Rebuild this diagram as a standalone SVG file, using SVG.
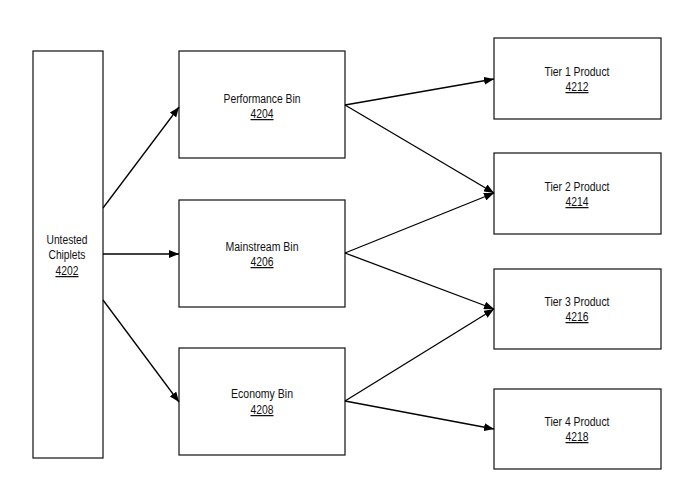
<svg xmlns="http://www.w3.org/2000/svg" width="693" height="503" viewBox="0 0 693 503">
<style>
.box{fill:#fff;stroke:#222;stroke-width:1.3}
.t{font-family:"Liberation Sans",Arial,sans-serif;font-size:12.5px;fill:#111;text-anchor:middle}
.u{text-decoration:underline}
.c{stroke:#000;stroke-width:1.3;fill:none;marker-end:url(#ah)}
</style>
<defs>
<marker id="ah" viewBox="0 0 10 8" refX="10" refY="4" markerWidth="10" markerHeight="8" markerUnits="userSpaceOnUse" orient="auto">
<path d="M0,0 L10,4 L0,8 Z" fill="#000"/>
</marker>
</defs>
<rect width="693" height="503" fill="#fff"/>
<g id="n4202"><rect class="box" x="33" y="51" width="70" height="407"/>
<text class="t" x="67" y="244" textLength="41" lengthAdjust="spacingAndGlyphs">Untested</text><text class="t" x="67" y="259" textLength="37" lengthAdjust="spacingAndGlyphs">Chiplets</text><text class="t u" x="67" y="275" textLength="23" lengthAdjust="spacingAndGlyphs">4202</text></g>
<g id="n4204"><rect class="box" x="179" y="51" width="166" height="107"/>
<text class="t" x="262" y="103" textLength="77" lengthAdjust="spacingAndGlyphs">Performance Bin</text><text class="t u" x="262" y="118" textLength="23" lengthAdjust="spacingAndGlyphs">4204</text></g>
<g id="n4206"><rect class="box" x="179" y="200" width="166" height="107"/>
<text class="t" x="262" y="251" textLength="73" lengthAdjust="spacingAndGlyphs">Mainstream Bin</text><text class="t u" x="262" y="266" textLength="23" lengthAdjust="spacingAndGlyphs">4206</text></g>
<g id="n4208"><rect class="box" x="179" y="348" width="166" height="107"/>
<text class="t" x="262" y="398" textLength="62" lengthAdjust="spacingAndGlyphs">Economy Bin</text><text class="t u" x="262" y="414" textLength="23" lengthAdjust="spacingAndGlyphs">4208</text></g>
<g id="n4212"><rect class="box" x="494" y="38" width="167" height="81"/>
<text class="t" x="577" y="76" textLength="65" lengthAdjust="spacingAndGlyphs">Tier 1 Product</text><text class="t u" x="577" y="91" textLength="23" lengthAdjust="spacingAndGlyphs">4212</text></g>
<g id="n4214"><rect class="box" x="494" y="153" width="167" height="81"/>
<text class="t" x="577" y="191" textLength="65" lengthAdjust="spacingAndGlyphs">Tier 2 Product</text><text class="t u" x="577" y="206" textLength="23" lengthAdjust="spacingAndGlyphs">4214</text></g>
<g id="n4216"><rect class="box" x="494" y="269" width="167" height="80"/>
<text class="t" x="577" y="306" textLength="65" lengthAdjust="spacingAndGlyphs">Tier 3 Product</text><text class="t u" x="577" y="321" textLength="23" lengthAdjust="spacingAndGlyphs">4216</text></g>
<g id="n4218"><rect class="box" x="494" y="389" width="167" height="80"/>
<text class="t" x="577" y="426" textLength="65" lengthAdjust="spacingAndGlyphs">Tier 4 Product</text><text class="t u" x="577" y="441" textLength="23" lengthAdjust="spacingAndGlyphs">4218</text></g>
<g id="connectors">
<line class="c" x1="103" y1="208" x2="179" y2="107"/>
<line class="c" x1="103" y1="254" x2="179" y2="254"/>
<line class="c" x1="103" y1="300" x2="179" y2="402"/>
<line class="c" x1="345" y1="105" x2="494" y2="79"/>
<line class="c" x1="345" y1="105" x2="494" y2="193"/>
<line class="c" x1="345" y1="253" x2="494" y2="193"/>
<line class="c" x1="345" y1="253" x2="494" y2="309"/>
<line class="c" x1="345" y1="401" x2="494" y2="309"/>
<line class="c" x1="345" y1="401" x2="494" y2="429"/>
</g>
</svg>
